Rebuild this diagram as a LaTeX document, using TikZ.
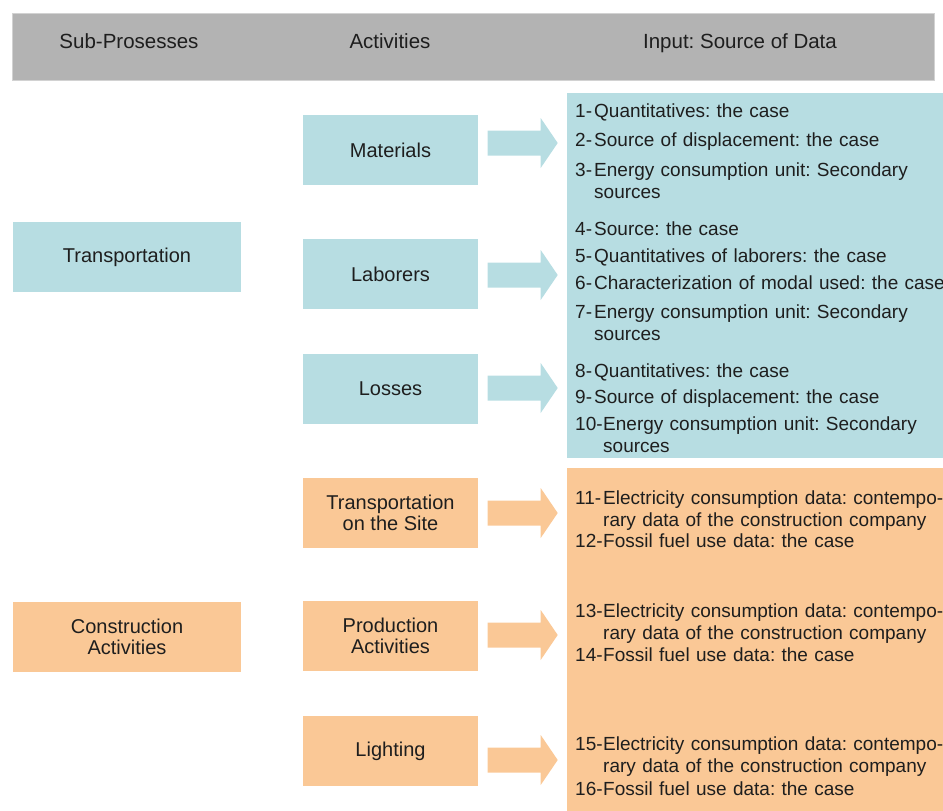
\documentclass[tikz,border=0pt]{standalone}
\usepackage{fontspec}
\setmainfont{Liberation Sans}
\usetikzlibrary{calc}
\frenchspacing

\definecolor{hdrgray}{HTML}{B3B3B3}
\definecolor{hdredge}{HTML}{D2D2D2}
\definecolor{tealfill}{HTML}{B7DDE2}
\definecolor{peachfill}{HTML}{FAC896}
\definecolor{inkdark}{HTML}{1E1E1E}

\tikzset{
  box/.style={inner sep=0pt, minimum height=70pt, align=center, text=inkdark,
              font=\fontsize{20}{21.5}\selectfont},
  subbox/.style={box, minimum width=228pt},
  actbox/.style={box, minimum width=175pt},
  panel/.style={inner sep=0pt, anchor=north west, minimum width=376pt},
  hdrtext/.style={anchor=base, inner sep=0pt, text=inkdark, font=\fontsize{20.5}{22}\selectfont},
  num/.style={anchor=base west, inner sep=0pt, text=inkdark, font=\fontsize{19}{22}\selectfont},
  entry/.style={anchor=base west, inner sep=0pt, text=inkdark, text width=400pt, align=left,
                font=\fontsize{19}{22}\selectfont},
  pics/blockarrow/.style={code={
    \fill[#1] (0,-12.5) -- (53,-12.5) -- (53,-25) -- (70,0) -- (53,25) -- (53,12.5) -- (0,12.5) -- cycle;}}
}

\begin{document}
\frenchspacing
\begin{tikzpicture}[x=1pt,y=-1pt]
\useasboundingbox (0,0) rectangle (943,811);

% header bar
\node[fill=hdrgray, draw=hdredge, line width=1pt, minimum width=922pt, minimum height=67pt,
      inner sep=0pt, anchor=north west] (header) at (12,13) {};
\node[hdrtext] (hsub) at (129,48) {Sub-Prosesses};
\node[hdrtext] (hact) at (390,48) {Activities};
\node[hdrtext] (hinp) at (740,48) {Input: Source of Data};

% data panels
\node[panel, fill=tealfill, minimum height=365pt] (srcT) at (567,93) {};
\node[panel, fill=peachfill, minimum height=343pt] (srcC) at (567,468) {};

% sub-processes
\node[subbox, fill=tealfill] (trans) at (127,257) {Transportation};
\node[subbox, fill=peachfill] (constr) at (127,637) {Construction\\Activities};

% activities
\node[actbox, fill=tealfill] (mat) at (390.5,150) {Materials};
\node[actbox, fill=tealfill] (lab) at (390.5,274) {Laborers};
\node[actbox, fill=tealfill] (loss) at (390.5,389) {Losses};
\node[actbox, fill=peachfill] (site) at (390.5,513) {Transportation\\on the Site};
\node[actbox, fill=peachfill] (prod) at (390.5,636) {Production\\Activities};
\node[actbox, fill=peachfill] (light) at (390.5,751) {Lighting};

% block arrows from activities to their data
\pic at ($(mat.east)+(9.5,-7)$) {blockarrow=tealfill};
\pic at ($(lab.east)+(9.5,1)$) {blockarrow=tealfill};
\pic at ($(loss.east)+(9.5,-1)$) {blockarrow=tealfill};
\pic at ($(site.east)+(9.5,0)$) {blockarrow=peachfill};
\pic at ($(prod.east)+(9.5,-1)$) {blockarrow=peachfill};
\pic at ($(light.east)+(9.5,9)$) {blockarrow=peachfill};

% transportation data sources
\node[num] (n1) at (575,117) {1-};
\node[entry] (e1) at (594,117) {Quantitatives: the case};
\node[num] (n2) at (575,146.5) {2-};
\node[entry] (e2) at (594,146.5) {Source of displacement: the case};
\node[num] (n3) at (575,176) {3-};
\node[entry] (e3) at (594,176) {Energy consumption unit: Secondary\\sources};
\node[num] (n4) at (575,235) {4-};
\node[entry] (e4) at (594,235) {Source: the case};
\node[num] (n5) at (575,262) {5-};
\node[entry] (e5) at (594,262) {Quantitatives of laborers: the case};
\node[num] (n6) at (575,289) {6-};
\node[entry] (e6) at (594,289) {Characterization of modal used: the case};
\node[num] (n7) at (575,318) {7-};
\node[entry] (e7) at (594,318) {Energy consumption unit: Secondary\\sources};
\node[num] (n8) at (575,377) {8-};
\node[entry] (e8) at (594,377) {Quantitatives: the case};
\node[num] (n9) at (575,403) {9-};
\node[entry] (e9) at (594,403) {Source of displacement: the case};
\node[num] (n10) at (575,430) {10-};
\node[entry] (e10) at (603,430) {Energy consumption unit: Secondary\\sources};

% construction data sources
\node[num] (n11) at (575,504) {11-};
\node[entry] (e11) at (603,504) {Electricity consumption data: contempo-\\rary data of the construction company};
\node[num] (n12) at (575,547) {12-};
\node[entry] (e12) at (603,547) {Fossil fuel use data: the case};
\node[num] (n13) at (575,617) {13-};
\node[entry] (e13) at (603,617) {Electricity consumption data: contempo-\\rary data of the construction company};
\node[num] (n14) at (575,661) {14-};
\node[entry] (e14) at (603,661) {Fossil fuel use data: the case};
\node[num] (n15) at (575,750) {15-};
\node[entry] (e15) at (603,750) {Electricity consumption data: contempo-\\rary data of the construction company};
\node[num] (n16) at (575,795) {16-};
\node[entry] (e16) at (603,795) {Fossil fuel use data: the case};
\end{tikzpicture}
\end{document}
